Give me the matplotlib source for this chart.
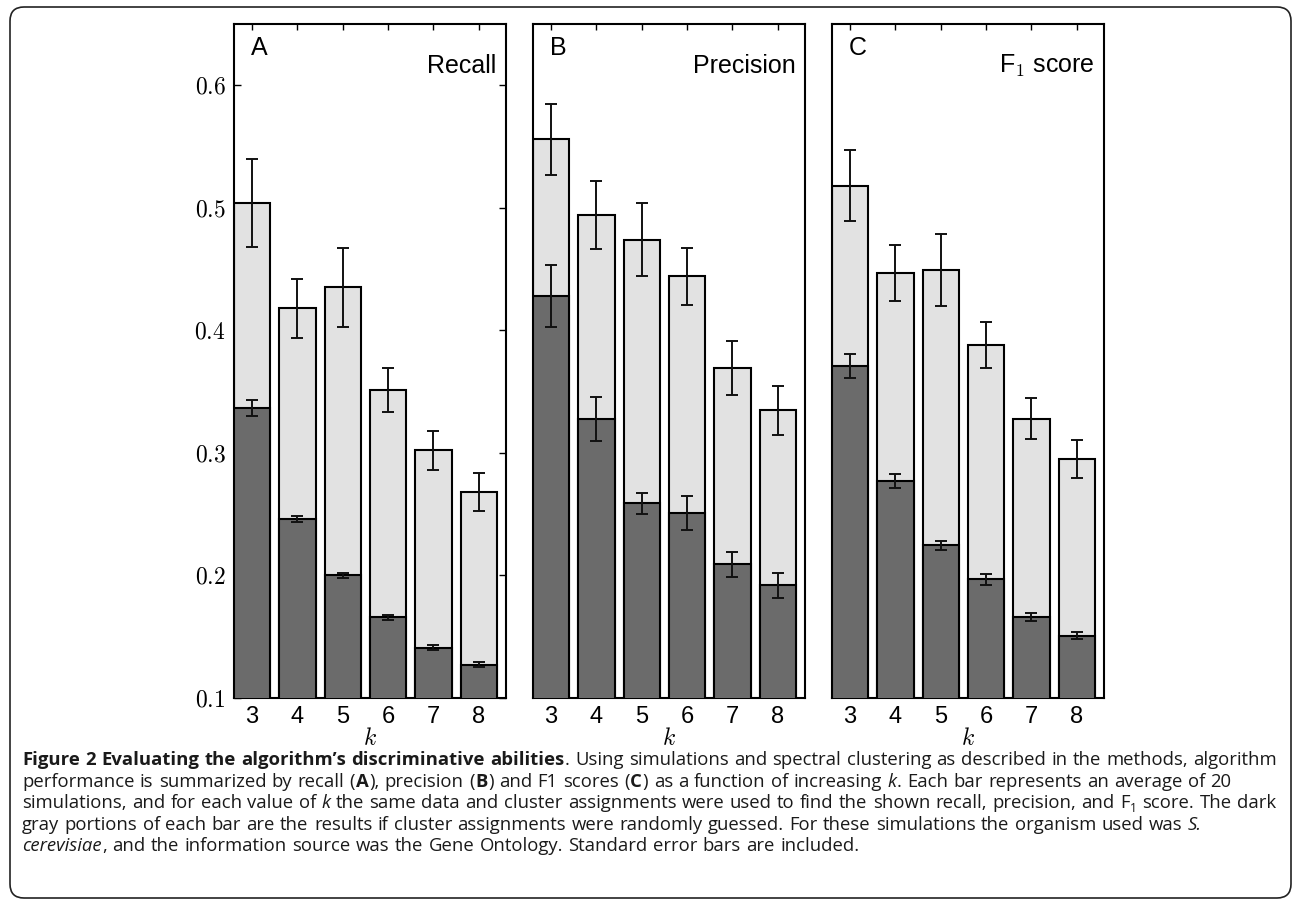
import matplotlib
matplotlib.use("Agg")
import matplotlib.pyplot as plt
from matplotlib.patches import FancyBboxPatch
from matplotlib.transforms import IdentityTransform
from matplotlib.ticker import FuncFormatter

plt.rcParams['mathtext.fontset'] = 'cm'
plt.rcParams['font.family'] = ['Liberation Sans', 'DejaVu Sans']

# data
k_values = [3, 4, 5, 6, 7, 8]

recall = [0.504, 0.418, 0.435, 0.351, 0.302, 0.268]
recall_err = [0.036, 0.024, 0.032, 0.018, 0.016, 0.0155]
recall_rand = [0.337, 0.246, 0.200, 0.166, 0.141, 0.127]
recall_rand_err = [0.0065, 0.0023, 0.002, 0.002, 0.002, 0.002]

precision = [0.556, 0.494, 0.474, 0.444, 0.369, 0.335]
precision_err = [0.029, 0.0275, 0.030, 0.023, 0.022, 0.020]
precision_rand = [0.428, 0.328, 0.259, 0.251, 0.209, 0.192]
precision_rand_err = [0.025, 0.018, 0.0085, 0.014, 0.0105, 0.010]

f1 = [0.518, 0.447, 0.449, 0.388, 0.328, 0.295]
f1_err = [0.029, 0.023, 0.0295, 0.0185, 0.017, 0.0155]
f1_rand = [0.371, 0.277, 0.2245, 0.197, 0.166, 0.151]
f1_rand_err = [0.010, 0.006, 0.0035, 0.0045, 0.0035, 0.003]

panel_letters = ["A", "B", "C"]
panel_titles = ["Recall", "Precision", r"F$_1$ score"]
y_ticks = [0.1, 0.2, 0.3, 0.4, 0.5, 0.6]

caption_lines = [
    [("Figure 2 Evaluating the algorithm\u2019s discriminative abilities", "b"),
     (". Using simulations and spectral clustering as described in the methods, algorithm", "n")],
    [("performance is summarized by recall (", "n"), ("A", "b"), ("), precision (", "n"), ("B", "b"),
     (") and F1 scores (", "n"), ("C", "b"), (") as a function of increasing ", "n"), ("k", "i"),
     (". Each bar represents an average of 20", "n")],
    [("simulations, and for each value of ", "n"), ("k", "i"),
     (" the same data and cluster assignments were used to find the shown recall, precision, and F", "n"),
     ("1", "sub"), (" score. The dark", "n")],
    [("gray portions of each bar are the results if cluster assignments were randomly guessed. "
      "For these simulations the organism used was ", "n"), ("S.", "i")],
    [("cerevisiae", "i"),
     (", and the information source was the Gene Ontology. Standard error bars are included.", "n")],
]

W, H = 1293, 901
fig = plt.figure(figsize=(W / 100, H / 100), dpi=100)

light = "#e2e2e2"
dark = "#6b6b6b"

panels = [
    (recall, recall_err, recall_rand, recall_rand_err),
    (precision, precision_err, precision_rand, precision_rand_err),
    (f1, f1_err, f1_rand, f1_rand_err),
]
lefts = [234, 533, 832]
ax_top, ax_bot, ax_w = 24, 698, 272

for i, (full, full_err, rand, rand_err) in enumerate(panels):
    ax = fig.add_axes([lefts[i] / W, 1 - ax_bot / H, ax_w / W, (ax_bot - ax_top) / H])
    ax.bar(k_values, full, width=0.8, color=light, edgecolor="black", linewidth=1.5, zorder=2)
    ax.bar(k_values, rand, width=0.8, color=dark, edgecolor="black", linewidth=1.5, zorder=3)
    ax.errorbar(k_values, full, yerr=full_err, fmt="none", ecolor="#111111",
                elinewidth=1.4, capsize=4, capthick=1.4, zorder=4)
    ax.errorbar(k_values, rand, yerr=rand_err, fmt="none", ecolor="#111111",
                elinewidth=1.4, capsize=4, capthick=1.4, zorder=4)
    ax.set_xlim(2.6, 8.6)
    ax.set_ylim(0.1, 0.65)
    ax.set_xticks(k_values)
    ax.tick_params(axis="x", direction="in", top=True, bottom=True, length=4, width=1,
                   labelsize=17, pad=6)
    if i == 0:
        ax.set_yticks(y_ticks)
        ax.yaxis.set_major_formatter(FuncFormatter(lambda v, p: r"$%.1f$" % v))
        ax.tick_params(axis="y", direction="in", left=True, right=True, length=5, width=1,
                       labelsize=17, pad=6)
    else:
        ax.set_yticks([])
    for s in ax.spines.values():
        s.set_linewidth(1.5)
    ax.set_xlabel(r"$k$", fontsize=17, labelpad=0)
    ax.text(0.062, 0.954, panel_letters[i], transform=ax.transAxes, fontsize=18,
            ha="left", va="baseline")
    ax.text(0.965, 0.927, panel_titles[i], transform=ax.transAxes, fontsize=18,
            ha="right", va="baseline")

# rounded frame around the whole figure
frame = FancyBboxPatch((10, 3), 1281, 891, boxstyle="round,pad=0,rounding_size=14",
                       transform=IdentityTransform(), fill=False, edgecolor="#222222",
                       linewidth=1.2)
fig.patches.append(frame)

# caption, laid out word by word
renderer = fig.canvas.get_renderer()
cap_font = ["Open Sans", "DejaVu Sans"]


def style_kw(st, size):
    kw = dict(family=cap_font, fontsize=size, color="#1a1a1a")
    if st == "b":
        kw["fontweight"] = "bold"
    elif st == "i":
        kw["fontstyle"] = "italic"
    elif st == "sub":
        kw["fontsize"] = size * 0.65
    return kw


def draw_caption(size):
    made = []
    x_end = 0
    space = fig.text(0, 0, "n n", **style_kw("n", size))
    nn = fig.text(0, 0, "nn", **style_kw("n", size))
    space_w = space.get_window_extent(renderer).width - nn.get_window_extent(renderer).width
    space.remove()
    nn.remove()
    for j, segs in enumerate(caption_lines):
        y = H - 765 - j * 21.6
        pieces = []
        pending = False
        for txt, st in segs:
            parts = txt.split(" ")
            for n, p in enumerate(parts):
                if n > 0:
                    pending = True
                if p:
                    pieces.append((p, st, pending))
                    pending = False
        x = 22
        for n, (p, st, sp) in enumerate(pieces):
            if sp and n > 0:
                x += space_w
            yy = y - 4 if st == "sub" else y
            t = fig.text(x, yy, p, transform=IdentityTransform(), va="baseline", ha="left",
                         **style_kw(st, size))
            made.append(t)
            x += t.get_window_extent(renderer).width + 0.6
        if j == 0:
            x_end = x
    return made, x_end


texts, end = draw_caption(12)
for t in texts:
    t.remove()
size = 12 * (1271 - 22) / (end - 22)
draw_caption(size)

fig.savefig("out.png", dpi=100)
